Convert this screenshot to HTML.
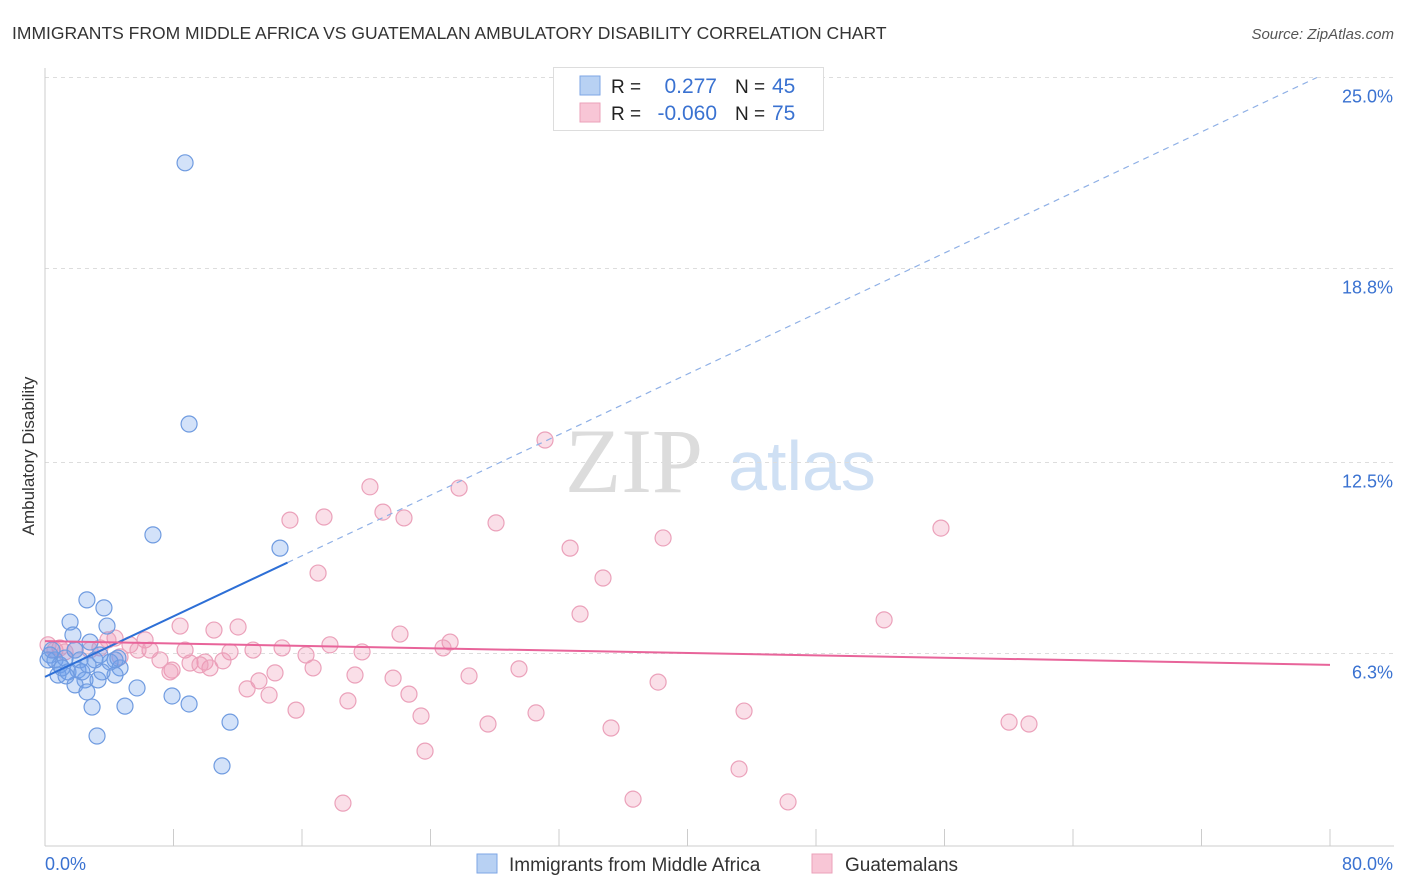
<!DOCTYPE html>
<html><head><meta charset="utf-8"><style>
body{margin:0;background:#fff;font-family:"Liberation Sans",sans-serif;}
#wrap{position:relative;width:1406px;height:892px;overflow:hidden;}
</style></head><body>
<div id="wrap">
<svg id="svg" width="1406" height="892" xmlns="http://www.w3.org/2000/svg">
<text x="12" y="39" font-size="17.5" fill="#333">IMMIGRANTS FROM MIDDLE AFRICA VS GUATEMALAN AMBULATORY DISABILITY CORRELATION CHART</text>
<text x="1394" y="39" font-size="15" fill="#555" font-style="italic" text-anchor="end">Source: ZipAtlas.com</text>
<text x="34" y="456" font-size="17" fill="#333" text-anchor="middle" transform="rotate(-90 34 456)">Ambulatory Disability</text>
<g>
<text x="634" y="492" font-size="92" fill="#dcdcdc" font-family="Liberation Serif,serif" text-anchor="middle">ZIP</text>
<text x="802" y="490" font-size="70" fill="#cfe0f4" text-anchor="middle">atlas</text>
</g>
<g id="grid"></g>
<g id="marks"></g>
<g>
<rect x="553.5" y="67.5" width="270" height="63" fill="#fff" stroke="#ddd"/>
<rect x="580" y="76" width="20" height="19" fill="#b8d1f3" stroke="#7ea6e6"/>
<rect x="580" y="103" width="20" height="19" fill="#f8c6d6" stroke="#eba1ba"/>
<text x="611" y="93" font-size="19" fill="#222">R =</text>
<text x="717" y="93" font-size="21" fill="#3a72d1" text-anchor="end">0.277</text>
<text x="735" y="93" font-size="19" fill="#222">N =</text>
<text x="772" y="93" font-size="21" fill="#3a72d1">45</text>
<text x="611" y="120" font-size="19" fill="#222">R =</text>
<text x="717" y="120" font-size="21" fill="#3a72d1" text-anchor="end">-0.060</text>
<text x="735" y="120" font-size="19" fill="#222">N =</text>
<text x="772" y="120" font-size="21" fill="#3a72d1">75</text>
</g>
<g>
<rect x="477" y="854" width="20" height="19" fill="#b8d1f3" stroke="#7ea6e6"/>
<text x="509" y="871" font-size="19" fill="#333">Immigrants from Middle Africa</text>
<rect x="812" y="854" width="20" height="19" fill="#f8c6d6" stroke="#eba1ba"/>
<text x="845" y="871" font-size="19" fill="#333">Guatemalans</text>
</g>
</svg>
</div>
<script>
const blueX=[8.72,8.97,6.72,14.63,2.61,3.67,1.56,3.86,1.74,2.80,0.31,0.62,0.93,1.25,1.87,2.18,3.11,3.42,4.36,4.67,0.81,1.43,2.05,2.49,1.87,3.30,4.36,5.73,2.61,7.91,2.93,4.98,8.97,11.52,3.24,11.02,0.19,0.44,1.06,2.30,4.05,4.54,3.55,1.31,2.68];
const blueY=[22.23,13.75,10.15,9.72,8.04,7.78,7.32,7.19,6.90,6.67,6.25,6.09,5.93,6.15,6.41,6.09,6.09,6.25,6.09,5.83,5.60,5.70,5.76,5.44,5.28,5.44,5.60,5.18,5.05,4.92,4.56,4.59,4.66,4.07,3.62,2.65,6.09,6.41,5.83,5.70,6.02,6.15,5.70,5.57,5.93];
const pinkX=[31.13,20.23,25.78,15.25,17.37,21.04,22.35,28.08,55.78,32.69,38.48,17.00,34.74,33.31,52.24,8.41,12.02,10.52,22.10,25.22,17.74,4.36,6.23,5.29,3.42,1.87,0.93,6.54,8.72,14.76,12.95,11.52,19.74,16.25,24.78,7.16,9.03,9.96,11.08,7.91,10.27,16.69,19.30,21.67,29.51,26.40,14.32,13.32,12.58,38.17,22.66,13.95,18.86,15.63,43.52,30.57,23.41,27.58,60.02,61.26,35.24,23.66,43.21,36.61,46.26,18.55,0.19,0.62,1.25,2.80,4.67,5.79,3.92,7.78,9.65];
const pinkY=[13.23,11.71,11.67,10.63,10.73,10.89,10.70,10.54,10.37,9.72,10.05,8.91,8.75,7.58,7.39,7.19,7.16,7.06,6.93,6.67,6.58,6.80,6.74,6.58,6.48,6.41,6.48,6.41,6.41,6.48,6.41,6.35,6.35,6.25,6.48,6.09,5.99,6.02,6.06,5.76,5.83,5.83,5.60,5.50,5.80,5.57,5.67,5.41,5.15,5.37,4.98,4.95,4.76,4.46,4.43,4.37,4.27,4.01,4.07,4.01,3.88,3.13,2.55,1.57,1.48,1.44,6.58,6.41,6.35,6.41,6.19,6.41,6.74,5.70,5.93];
const yTicks=[25.0,18.8,12.5,6.3];
const yTickLabels=["25.0%","18.8%","12.5%","6.3%"];
const xTicks=[0,8,16,24,32,40,48,56,64,72,80];
const blueTrend=[5.54,25.2];
const pinkTrend=[6.70,5.93];
const blueSolidEnd=15.1;

const NS="http://www.w3.org/2000/svg";
const sx=v=>45+v*1285/80;
const sy=v=>847.5-v*192.5/6.25;
function mk(tag,attrs,parent){const e=document.createElementNS(NS,tag);for(const k in attrs)e.setAttribute(k,attrs[k]);parent.appendChild(e);return e;}
const grid=document.getElementById('grid'),marks=document.getElementById('marks');
yTicks.forEach((t,i)=>{
 const l=mk('line',{x1:45,x2:1394,y1:sy(t),y2:sy(t),stroke:'#ddd','stroke-dasharray':'4,4'},grid);
 
 
 const tx=mk('text',{x:1393,y:sy(t)+25,'font-size':18,fill:'#3a72d1','text-anchor':'end'},grid);
 tx.textContent=yTickLabels[i];
 
 
});
const ax=mk('line',{x1:45,x2:45,y1:68,y2:846,stroke:'#ccc'},grid);


const bx=mk('line',{x1:45,x2:1394,y1:846,y2:846,stroke:'#ccc'},grid);


xTicks.forEach(t=>{
 const l=mk('line',{x1:sx(t),x2:sx(t),y1:829,y2:846,stroke:'#ccc'},grid);
 
 
});
const x0=mk('text',{x:45,y:870,'font-size':18,fill:'#3a72d1'},grid);x0.textContent='0.0%';


const x1=mk('text',{x:1393,y:870,'font-size':18,fill:'#3a72d1','text-anchor':'end'},grid);x1.textContent='80.0%';



pinkX.forEach((v,i)=>{
 const c=mk('circle',{cx:sx(v),cy:sy(pinkY[i]),r:8,fill:'rgba(240,150,180,0.3)',stroke:'#eba1ba','stroke-width':1.2},marks);
 
 
});
blueX.forEach((v,i)=>{
 const c=mk('circle',{cx:sx(v),cy:sy(blueY[i]),r:8,fill:'rgba(110,160,235,0.3)',stroke:'#6f9be0','stroke-width':1.2},marks);
 
 
});
const by=x=>blueTrend[0]+(blueTrend[1]-blueTrend[0])*x/80;
const xEnd=Math.min(80,(25-blueTrend[0])/((blueTrend[1]-blueTrend[0])/80));
const bs=mk('line',{x1:sx(0),y1:sy(by(0)),x2:sx(blueSolidEnd),y2:sy(by(blueSolidEnd)),stroke:'#2d6fd6','stroke-width':2},marks);


const bd=mk('line',{x1:sx(blueSolidEnd),y1:sy(by(blueSolidEnd)),x2:sx(xEnd),y2:sy(by(xEnd)),stroke:'#8fb0e6','stroke-width':1.2,'stroke-dasharray':'6,5'},marks);


const pl=mk('line',{x1:sx(0),y1:sy(pinkTrend[0]),x2:sx(80),y2:sy(pinkTrend[1]),stroke:'#e8649a','stroke-width':2},marks);


</script>
</body></html>
